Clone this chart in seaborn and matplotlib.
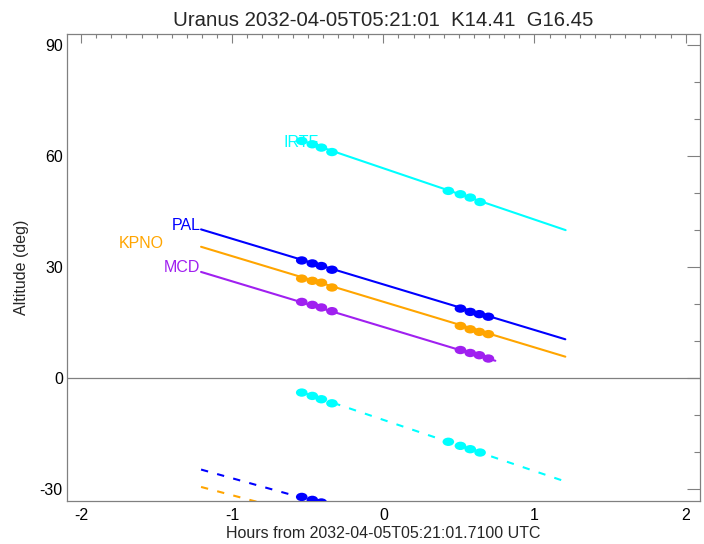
import numpy as np
import pandas as pd
import seaborn as sns
import matplotlib
matplotlib.use("Agg")
import matplotlib.pyplot as plt
from matplotlib.ticker import MultipleLocator
from matplotlib.path import Path
from matplotlib.transforms import Affine2D

# --- data ---
observatories = ["IRTF", "PAL", "KPNO", "MCD"]
obs_colors = ["#00FFFF", "#0000FF", "#FFA500", "#A020F0"]

# altitude tracks (start / end), hours from reference time
irtf_hours = [-0.54, 1.206]
irtf_alt = [64.2, 40.0]
pal_hours = [-1.206, 1.204]
pal_alt = [40.2, 10.5]
kpno_hours = [-1.206, 1.204]
kpno_alt = [35.5, 5.8]
mcd_hours = [-1.206, 0.741]
mcd_alt = [28.7, 4.7]

# second (dashed) tracks
irtf_hours_d = [-0.54, 1.18]
irtf_alt_d = [-3.8, -27.6]
pal_hours_d = [-1.206, 1.204]
pal_alt_d = [-24.7, -52.2]
kpno_hours_d = [-1.206, 1.204]
kpno_alt_d = [-29.4, -55.6]

# observation epochs
epoch_hours = [-0.54, -0.47, -0.41, -0.34, 0.51, 0.575, 0.635, 0.695]
irtf_epoch_hours = [-0.54, -0.47, -0.41, -0.34, 0.43, 0.51, 0.575, 0.64]
irtf_pts = [64.1, 63.2, 62.3, 61.1, 50.6, 49.7, 48.8, 47.6]
irtf_pts_d = [-3.9, -4.8, -5.7, -6.8, -17.2, -18.3, -19.2, -20.1]
pal_pts = [31.8, 31.0, 30.3, 29.3, 18.8, 17.9, 17.3, 16.6]
kpno_pts = [26.9, 26.3, 25.8, 24.5, 14.1, 13.2, 12.5, 11.9]
mcd_pts = [20.6, 19.8, 19.1, 18.1, 7.6, 6.8, 6.2, 5.3]
pal_pts_d = [-32.1, -32.9, -33.6, -34.5]

title = "Uranus 2032-04-05T05:21:01  K14.41  G16.45"
xlabel = "Hours from 2032-04-05T05:21:01.7100 UTC"
ylabel = "Altitude (deg)"

# --- tables ---
solid = pd.concat([
    pd.DataFrame(dict(obs=o, hours=h, alt=a))
    for o, h, a in zip(observatories,
                       [irtf_hours, pal_hours, kpno_hours, mcd_hours],
                       [irtf_alt, pal_alt, kpno_alt, mcd_alt])
], ignore_index=True)
dashed = pd.concat([
    pd.DataFrame(dict(obs=o, hours=h, alt=a))
    for o, h, a in zip(["IRTF", "PAL", "KPNO"],
                       [irtf_hours_d, pal_hours_d, kpno_hours_d],
                       [irtf_alt_d, pal_alt_d, kpno_alt_d])
], ignore_index=True)
pts = pd.concat([
    pd.DataFrame(dict(obs="IRTF", hours=irtf_epoch_hours, alt=irtf_pts)),
    pd.DataFrame(dict(obs="IRTF", hours=irtf_epoch_hours, alt=irtf_pts_d)),
    pd.DataFrame(dict(obs="PAL", hours=epoch_hours, alt=pal_pts)),
    pd.DataFrame(dict(obs="KPNO", hours=epoch_hours, alt=kpno_pts)),
    pd.DataFrame(dict(obs="MCD", hours=epoch_hours, alt=mcd_pts)),
    pd.DataFrame(dict(obs="PAL", hours=epoch_hours[:4], alt=pal_pts_d)),
], ignore_index=True)

palette = dict(zip(observatories, obs_colors))

# flattened dot like the IDL symbol
circ = Path.unit_circle()
ellipse = Path(Affine2D().scale(1.0, 0.72).transform(circ.vertices), circ.codes)

# --- plot ---
sns.set_style("white")
plt.rcParams["font.family"] = ["Liberation Sans", "DejaVu Sans"]
plt.rcParams["axes.unicode_minus"] = False
axc = "#808080"

fig = plt.figure(figsize=(7.04, 5.44), dpi=100)
ax = fig.add_axes([67 / 704, 43 / 544, 633 / 704, 467 / 544])

ax.axhline(0, color=axc, lw=0.9, zorder=1)
sns.lineplot(data=solid, x="hours", y="alt", hue="obs", palette=palette,
             estimator=None, sort=False, lw=1.5, legend=False, ax=ax)
sns.lineplot(data=dashed, x="hours", y="alt", hue="obs", palette=palette,
             estimator=None, sort=False, lw=1.5, legend=False, ax=ax,
             dashes=False, linestyle=(0, (3.5, 4.5)))
sns.scatterplot(data=pts, x="hours", y="alt", hue="obs", palette=palette,
                marker=ellipse, s=70, linewidth=0, legend=False, ax=ax, zorder=3)

# station labels at track starts
lab_pos = {"IRTF": (-0.43, 62.5), "PAL": (-1.21, 40.0),
           "KPNO": (-1.453, 35.3), "MCD": (-1.21, 28.7)}
for o, c in zip(observatories, obs_colors):
    x, y = lab_pos[o]
    ax.text(x, y, o, color=c, fontsize=11.5, ha="right", va="baseline")

ax.set_xlim(-2.093, 2.095)
ax.set_ylim(-33.2, 93.0)
ax.xaxis.set_major_locator(MultipleLocator(1))
ax.xaxis.set_minor_locator(MultipleLocator(0.1))
ax.yaxis.set_major_locator(MultipleLocator(30))
ax.yaxis.set_minor_locator(MultipleLocator(10))
ax.tick_params(axis="both", which="both", direction="in", top=True, right=True,
               colors=axc, labelcolor="black", labelsize=11.5, width=0.8)
ax.tick_params(axis="x", which="major", length=6.5, pad=5)
ax.tick_params(axis="x", which="minor", length=3)
ax.tick_params(axis="y", which="major", length=9.5, pad=3)
ax.tick_params(axis="y", which="minor", length=4.5)
for sp in ax.spines.values():
    sp.set_color(axc)
    sp.set_linewidth(0.9)

ax.set_xlabel(xlabel, fontsize=11.5, labelpad=2)
ax.set_ylabel(ylabel, fontsize=11.5, labelpad=8)
ax.set_title(title, fontsize=14.7, pad=6)

fig.savefig("out.png", dpi=100)
